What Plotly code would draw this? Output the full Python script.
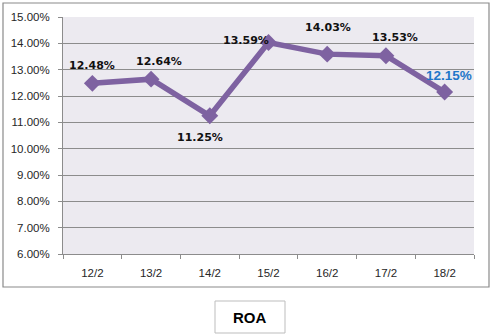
import plotly.graph_objects as go

# ROA by period
periods = ["12/2", "13/2", "14/2", "15/2", "16/2", "17/2", "18/2"]
roa = [12.48, 12.64, 11.25, 14.03, 13.59, 13.53, 12.15]
# pixel offsets of each point's data label from its marker (right, up)
label_dx = [0, 8, -10, 59, -81, 9, 4]
label_dy = [18, 18, -22, 15, 14, 18, 17]

y_ticks = [6, 7, 8, 9, 10, 11, 12, 13, 14, 15]
y_tick_text = [f"{v:.2f}%" for v in y_ticks]

purple = "#7E62A1"
grid = "#8C8C8C"
tick_font = dict(family="Liberation Sans", size=11.5, color="#262626")

fig = go.Figure()
fig.add_trace(go.Scatter(
    x=periods, y=roa, mode="lines+markers",
    line=dict(color=purple, width=5.5),
    marker=dict(symbol="diamond", size=13, color=purple),
    name="ROA", showlegend=False, hoverinfo="skip",
))

annotations = []
for i, (p, v) in enumerate(zip(periods, roa)):
    last = i == len(roa) - 1
    annotations.append(dict(
        x=p, y=v, xref="x", yref="y", text=f"<b>{v:.2f}%</b>", showarrow=False,
        xshift=label_dx[i], yshift=label_dy[i],
        font=dict(
            family="Liberation Sans" if last else "DejaVu Sans",
            size=13.5 if last else 11,
            color="#1F77C9" if last else "#111111",
        ),
    ))

# series name box below the chart
annotations.append(dict(
    x=(250 - 63) / 411, y=(254 - 317) / 237, xref="paper", yref="paper",
    xanchor="center", yanchor="middle",
    text="<b>ROA</b>", showarrow=False,
    font=dict(family="Liberation Sans", size=15, color="#000000"),
))

shapes = [
    # outer chart frame
    dict(type="rect", xref="paper", yref="paper",
         x0=(3 - 63) / 411, x1=(489 - 63) / 411,
         y0=(254 - 287) / 237, y1=(254 - 3) / 237,
         line=dict(color="#8A8A8A", width=1.2), layer="below"),
    # legend frame
    dict(type="rect", xref="paper", yref="paper",
         x0=(215 - 63) / 411, x1=(285 - 63) / 411,
         y0=(254 - 333) / 237, y1=(254 - 301) / 237,
         line=dict(color="#BDBDBD", width=1)),
]

fig.update_layout(
    width=492, height=336,
    margin=dict(l=63, r=18, t=17, b=82),
    paper_bgcolor="#FFFFFF", plot_bgcolor="#ECEAF0",
    annotations=annotations, shapes=shapes,
    font=dict(family="Liberation Sans", size=11, color="#262626"),
    xaxis=dict(
        type="category", range=[-0.5, 6.5], showgrid=False,
        showline=True, linecolor=grid, linewidth=1,
        ticks="outside", ticklen=4, tickcolor=grid, tickson="boundaries",
        tickfont=tick_font, ticklabelstandoff=8,
        fixedrange=True,
    ),
    yaxis=dict(
        range=[6, 15], tickvals=y_ticks, ticktext=y_tick_text,
        showgrid=True, gridcolor=grid, gridwidth=1,
        showline=True, linecolor=grid, linewidth=1,
        ticks="outside", ticklen=4, tickcolor=grid,
        tickfont=tick_font, ticklabelstandoff=6,
        zeroline=False, fixedrange=True,
    ),
)

fig.write_html("out.html")
